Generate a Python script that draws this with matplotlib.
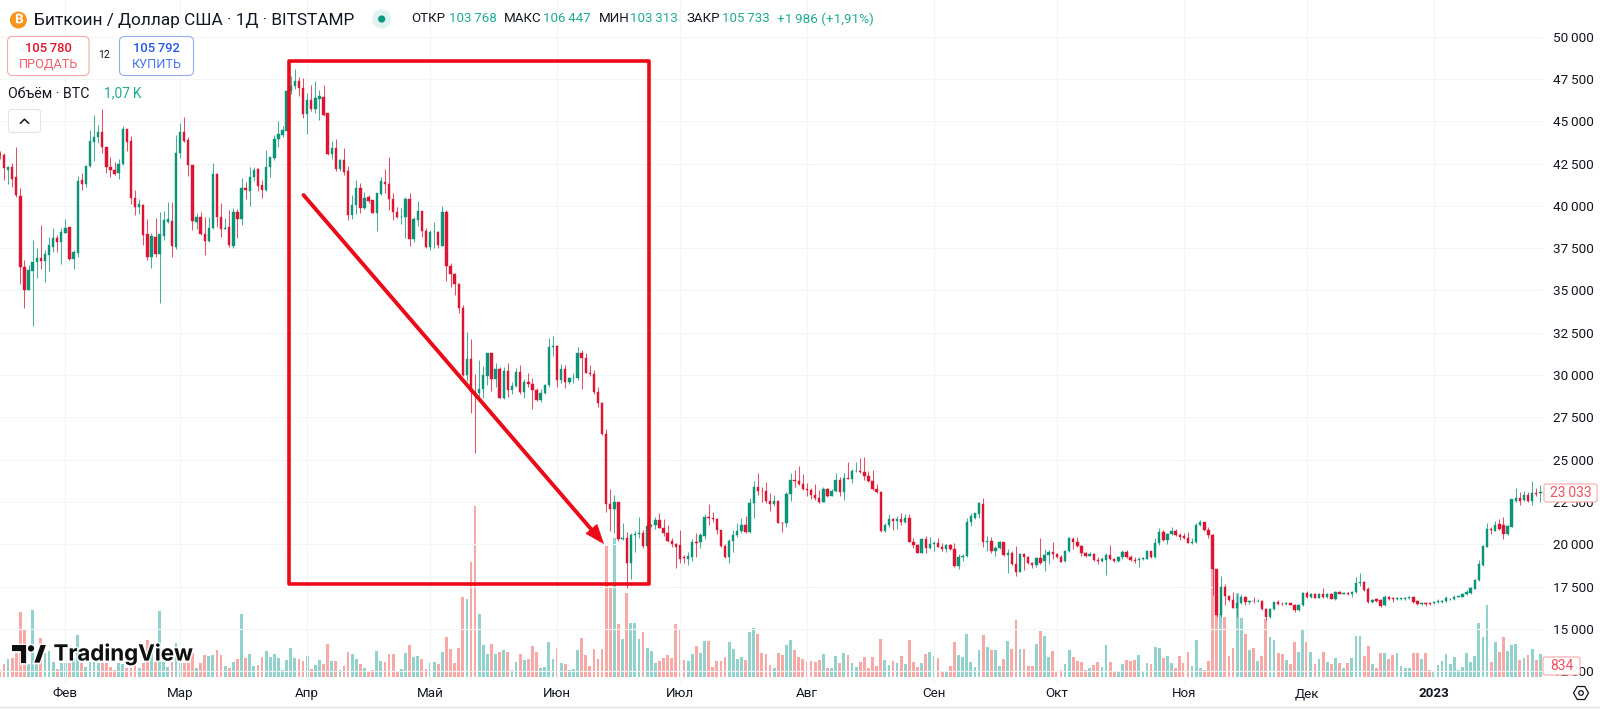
import matplotlib
matplotlib.use("Agg")
import matplotlib.pyplot as plt
import matplotlib.dates as mdates
import pandas as pd
from matplotlib.patches import Circle, FancyBboxPatch, Polygon, Rectangle, RegularPolygon
from matplotlib import patheffects as pe

plt.rcParams["font.family"] = ["Roboto", "DejaVu Sans"]

# Daily BTC/USD candles as (open, high, low, close), one list per month
jan_2022 = [(43060,43250,42800,43000),
    (43010,43110,41530,42220),(42120,42360,41290,42280),(42320,42520,41140,41590),(41690,43460,40550,40640),
    (40580,41040,35380,36410),(36410,36800,33950,35030),(35030,36510,35030,36210),(36170,37980,32900,36700),
    (36660,37530,35720,36940),(36900,38870,36250,36740),(36740,37390,35520,37160),(37100,38180,36170,37690),
    (37590,38670,37300,38080),(38080,38280,37300,37890),(37890,38710,36570,38460)]
feb_2022 = [(38420,39200,38380,38670),(38730,38770,36800,36840),(36840,37390,36250,37260),(37200,41770,37000,41490),
    (41530,41920,40940,41290),(41290,42360,41140,42360),(42360,44490,42320,43840),(43800,45370,42650,44050),
    (44050,44780,43700,44350),(44350,45730,43110,43460),(43500,43500,41920,42320),(42320,42910,41690,42120),
    (42120,42610,41830,41890),(41920,42750,41570,42480),(42480,44720,42420,44520),(44520,44520,43260,43800),
    (43840,44130,40110,40490),(40490,40940,39460,39950),(39950,40390,39520,40110),(40050,40090,37690,38280),
    (38340,39210,36800,37000),(36960,38380,36310,38220),(38180,39260,37000,37160),(37160,39660,34280,38340),
    (38240,39720,37980,39170),(39050,40250,38970,39210),(39090,40250,36960,37630),(37590,44190,37430,43110)]
mar_2022 = [(43150,44880,42810,44390),(44390,45270,43800,43840),(43890,44050,41770,42420),(42420,42420,38580,39110),
    (39070,39560,38610,39320),(39360,39660,38280,38340),(38340,39360,37100,37930),(37930,39360,37890,38710),
    (38670,42520,38610,41890),(41890,41920,38770,39360),(39360,40150,38180,38630),(38610,39260,38610,38710),
    (38770,39760,37590,37690),(37630,39860,37530,39620),(39620,39820,38080,39220),(39210,41630,38870,41080),
    (41040,41430,40390,40940),(40900,42280,40010,41730),(41690,42320,41490,42120),(42160,42220,40880,41180),
    (41230,41530,40450,40940),(40940,43300,40900,42280),(42280,42910,41730,42870),(42810,44190,42710,43950),
    (43950,45040,43500,44250),(44190,44740,44050,44490),(44450,46890,44410,46810),(46810,47700,46600,47090),
    (47090,48070,46910,47380),(47380,47640,46510,46990),(46990,47540,45180,45410)]
apr_2022 = [(45410,46650,44230,46260),(46260,47150,45630,45710),(45730,47400,45510,46360),(46340,46850,45080,46510),
    (46460,47150,45310,45370),(45470,45470,43010,43090),(43090,43840,42750,43400),(43400,43930,42060,42160),
    (42160,42750,42060,42710),(42710,43400,41830,41980),(42080,42360,39170,39460),(39440,40640,39210,40050),
    (40050,41530,39520,41080),(41080,41370,39560,39900),(39860,40840,39800,40490),(40540,40640,40150,40310),
    (40350,40350,39560,39600),(39600,40780,38540,40740),(40700,41690,40640,41470),(41430,42160,40780,41270),
    (41270,42910,39760,40410),(40410,40740,39170,39620),(39620,39950,39270,39320),(39320,39900,38930,39360),
    (39360,40550,38120,40390),(40390,40740,37650,38020),(38020,39360,37890,39200),(39170,40310,38830,39680),
    (39680,39720,38180,38540),(38540,38670,37490,37590)]
may_2022 = [(37590,38580,37390,38480),(38440,39070,37530,38480),(38440,38540,37490,37690),(37650,40010,37630,39640),
    (39640,39760,35580,36470),(36470,36600,35230,35960),(35960,36050,34730,35380),(35380,35420,33690,33950),
    (33950,34140,29950,30000),(30000,32570,29670,30950),(30950,32110,27780,28980),(29020,30050,25380,28920),
    (28920,30890,28630,29160),(29160,30540,28630,30000),(29950,31330,29420,31290),(31290,31290,29080,29750),
    (29750,30700,29320,30360),(30360,30500,28630,28630),(28630,30500,28600,30240),(30240,30700,28690,29120),
    (29120,29610,28880,29360),(29360,30400,29280,30200),(30200,30600,28880,29020),(29020,29750,28630,29570),
    (29570,30140,29320,29450),(29450,29810,28000,29120),(29120,29260,28470,28530),(28530,29160,28430,28960),
    (28960,29470,28880,29420),(29420,32170,29320,31680),(31680,32310,31150,31720)]
jun_2022 = [(31720,31780,29320,29710),(29710,30660,29550,30360),(30360,30600,29220,29610),(29610,29910,29450,29850),
    (29810,30140,29510,29850),(29850,31640,29710,31290),(31290,31480,29160,31030),(31030,31290,30100,30100),
    (30100,30600,29950,30040),(30040,30300,28880,28980),(28980,29320,28100,28330),(28330,28390,26460,26500),
    (26500,26790,21930,22380),(22380,23250,20810,22070),(22070,22910,20650,22520),(22520,22520,20220,20310),
    (20310,21280,20250,20390),(20390,20750,17400,18910),(18910,20690,17930,20550),(20550,20760,19570,20590),
    (20590,21630,20350,20690),(20690,20850,19760,19900),(19900,21240,19860,21080),(21080,21200,21000,21120),
    (21140,21590,20880,21440),(21440,21830,20940,20980),(20980,21480,20490,20650),(20650,21140,20160,20190),
    (20190,20350,19820,20020),(20020,20060,18620,19860)]
jul_2022 = [(19940,20850,18910,19130),(19250,19370,18910,19190),(19130,19530,18780,19290),(19250,20290,19030,20160),
    (20160,20690,19270,20060),(20120,20650,19760,20550),(20490,21790,20290,21590),(21610,22360,21140,21570),
    (21570,21930,21300,21520),(21520,21570,20610,20850),(20850,20850,19860,19900),(19900,20020,19190,19230),
    (19230,20290,18880,20210),(20210,20850,19570,20550),(20550,21240,20450,20810),(20810,21540,20690,21160),
    (21160,21670,20690,20730),(20730,22720,20690,22420),(22420,23760,21570,23390),(23390,24230,22910,23150),
    (23170,23370,22520,23130),(23130,23700,22420,22540),(22540,23010,21970,22380),(22380,22910,22260,22580),
    (22580,22620,21240,21280),(21280,21340,20730,21240),(21240,23110,21040,22970),(22970,24230,22580,23800),
    (23800,24390,23410,23760),(23760,24630,23500,23560),(23560,24150,23210,23250)]
aug_2022 = [(23250,23600,22850,23210),(23210,23310,22660,22910),(22910,23560,22620,22720),(22720,23210,22420,22520),
    (22520,23370,22510,23250),(23250,23310,22820,22850),(22850,23250,22850,23170),(23170,24190,23110,23800),
    (23800,23960,22850,23070),(23070,24190,22620,23940),(23940,24880,23840,23840),(23840,24430,23600,24350),
    (24310,24880,24250,24350),(24350,25080,24230,24290),(24290,25140,23800,24040),(24040,24330,23700,23760),
    (23760,24390,23210,23250),(23250,23540,23050,23110),(23110,23150,20750,20790),(20790,21240,20750,21120),
    (21120,21770,21000,21470),(21470,21530,20850,21380),(21380,21670,20880,21470),(21490,21870,21140,21340),
    (21340,21790,21280,21530),(21530,21790,20150,20160),(20160,20350,19760,19960),(19960,20020,19470,19510),
    (19510,20350,19470,20290),(20290,20490,19510,19760),(19760,20450,19700,20020)]
sep_2022 = [(20020,20200,19600,20100),(20100,20390,19820,19860),(19860,20060,19620,19740),(19740,20020,19570,19940),
    (19940,20020,19660,19740),(19740,20060,18680,18720),(18720,19430,18560,19230),(19230,19430,18990,19310),
    (19310,21530,19230,21340),(21340,21830,21100,21690),(21530,21870,21480,21830),(21790,22500,21530,22420),
    (22360,22740,19820,20120),(20150,20490,19620,20210),(20210,20450,19510,19600),(19600,19900,19310,19800),
    (19800,20180,19700,20140),(20140,20140,19310,19370),(19370,19700,18280,19500),(19500,19620,18790,18820),
    (18820,19900,18150,18380),(18380,19510,18340,19430),(19430,19470,18480,19270),(19270,19310,18840,18880),
    (18880,18970,18580,18780),(18780,19270,18680,19210),(19190,20350,18840,18880),(18990,19700,18440,19390),
    (19390,19660,18840,19560),(19560,20160,19110,19410)]
oct_2022 = [(19410,19470,19170,19230),(19230,19370,18930,18970),(18990,19660,18950,19620),(19620,20450,19520,20350),
    (20290,20410,19740,20140),(20140,20450,19860,19900),(19900,19980,19310,19470),(19470,19560,19270,19330),
    (19330,19560,19310,19410),(19420,19470,19010,19070),(19070,19230,18820,19010),(19030,19230,18950,19150),
    (19070,19470,18190,19350),(19350,19940,19070,19130),(19130,19210,18950,18990),(18990,19310,18950,19230),
    (19230,19660,19150,19560),(19560,19660,19170,19230),(19230,19370,19010,19070),(19070,19230,18900,18990),
    (19070,19230,18680,19150),(19150,19270,19070,19190),(19150,19660,19110,19580),(19580,19600,19190,19230),
    (19230,20390,19210,20060),(20060,20940,19980,20750),(20750,20850,20210,20250),(20250,20650,20020,20610),
    (20610,21040,20530,20790),(20790,20880,20510,20550),(20550,20690,20250,20410)]
nov_2022 = [(20510,20650,20310,20390),(20390,20730,20060,20100),(20100,20390,20020,20140),(20140,21240,20100,21140),
    (21140,21440,21080,21300),(21300,21340,20790,20850),(20850,21040,20370,20550),(20550,20610,17000,18520),
    (18520,18520,15720,15820),(15820,18130,15720,17500),(17500,17630,16410,16940),(16940,17000,16670,16710),
    (16710,17160,16220,16260),(16260,17060,15730,16550),(16550,17040,16470,16870),(16870,16960,16410,16610),
    (16610,16730,16450,16670),(16670,16910,16550,16630),(16630,16770,16570,16670),(16670,16710,16110,16160),
    (16160,16250,15530,15720),(15720,16240,15660,16200),(16200,16610,16110,16590),(16590,16710,16410,16490),
    (16490,16610,16390,16450),(16450,16610,16390,16510),(16510,16550,16390,16430),(16430,16470,15980,16120),
    (16120,16470,16080,16390),(16390,17200,16370,17140)]
dec_2022 = [(17140,17220,16850,16900),(16900,17140,16810,17060),(17060,17140,16810,16850),(16850,17140,16810,17060),
    (17060,17420,16830,16870),(16870,17140,16850,17060),(17060,17140,16750,16790),(16790,17260,16730,17180),
    (17180,17240,17040,17080),(17080,17180,17040,17140),(17120,17200,17020,17080),(17080,17220,16910,17160),
    (17160,18090,17100,17690),(17710,18320,17540,17790),(17790,17850,17260,17300),(17340,17500,16550,16590),
    (16590,16770,16550,16710),(16740,16830,16590,16670),(16710,16770,16310,16370),(16410,17000,16370,16900),
    (16870,16940,16710,16790),(16810,16870,16610,16770),(16790,16890,16710,16850),(16770,16850,16730,16810),
    (16770,16870,16730,16830),(16810,16940,16770,16870),(16880,16940,16550,16610),(16650,16710,16430,16490),
    (16450,16590,16410,16550),(16550,16590,16370,16470),(16550,16610,16430,16470)]
jan_2023 = [(16510,16650,16450,16590),(16570,16770,16530,16650),(16610,16730,16550,16670),(16630,16960,16590,16810),
    (16750,16850,16690,16790),(16770,16980,16710,16910),(16890,16970,16860,16930),(16910,17100,16890,17080),
    (17060,17300,17020,17160),(17140,17460,17080,17400),(17380,17930,17340,17910),(17890,19070,17850,18820),
    (18780,19960,18740,19900),(19860,21240,19860,20900),(20900,21000,20610,20840),(20800,21400,20770,21140),
    (21180,21490,20840,20900),(21120,21590,20330,20610),(20610,21160,20570,21100),(21040,22660,21000,22660),
    (22580,23310,22520,22740),(22740,23110,22340,22580),(22620,23130,22540,22890),(22890,23110,22520,22580),
    (22580,23760,22320,23010),(23050,23310,22870,22970),(23010,23500,22520,23070),(23070,23200,22900,23033)]

# Daily traded volume in BTC, one list per month
vol_jan_2022 = [540,970,1380,1430,1840,5130,3730,1030,5270,1030,3050,1840,2030,1160,620,1080]
vol_feb_2022 = [1080,1080,1430,3320,1080,760,1160,1160,1080,1080,1080,760,490,1080,970,700,700,890,700,1080,2920,1970,1160,5210,1160,760,1160,2650]
vol_mar_2022 = [1080,1080,1080,1840,700,1080,1670,1620,1670,2110,1700,860,650,1190,1380,5000,1430,1780,860,920,1510,2030,1570,1780,1430,490,1300,2240,1430,1380,1240]
vol_apr_2022 = [1650,620,920,1300,970,2570,1220,1220,490,810,1940,1780,1380,970,700,320,490,2030,1220,1160,1810,1810,410,620,1890,2480,1570,1620,1380,620]
vol_may_2022 = [1080,1190,970,1970,3160,2190,1080,2270,6320,6160,9130,13500,5000,2510,1760,2620,1810,1940,2110,1940,490,1160,1810,1300,1380,2430,1920,650,760,2700,1380]
vol_jun_2022 = [2270,1080,1000,490,570,2110,3080,1670,860,2190,1380,2190,10400,7050,10960,4130,3000,6620,4240,4240,3000,3510,2270,2030,1080,1220,1430,1730,1430,4130]
vol_jul_2022 = [3730,1300,1220,1760,2430,1840,2840,2840,780,1220,1220,1540,2700,2190,1380,1540,1300,3560,3890,3380,1890,1760,890,650,1840,1670,2480,2920,2110,1540,1380]
vol_aug_2022 = [1130,1220,1160,1300,1760,650,650,1620,1080,1890,1670,1080,780,1130,1540,700,1540,810,3000,1300,950,1220,1080,1620,1000,2920,1130,780,1080,1760,1940]
vol_sep_2022 = [1620,1460,430,410,860,2700,1670,1540,3380,1130,780,2110,3290,2350,2110,2110,860,1380,2840,2190,4460,2190,2190,860,860,2620,3650,3210,1540,2030]
vol_oct_2022 = [350,490,1000,2110,1540,1220,1160,490,650,920,1130,780,2480,1130,350,410,1000,1300,1220,1300,1670,410,1080,1000,2350,2270,1460,1590,1080,650,1620]
vol_nov_2022 = [1080,1940,860,2920,700,490,1220,9830,4860,4940,4730,1620,2270,6640,4670,3380,2110,2270,1220,1620,4540,3130,2920,1840,1760,1300,970,2700,1940,3730]
vol_dec_2022 = [2700,1940,970,1380,1920,1130,1000,1460,1080,650,1080,1460,3210,3210,1620,2430,970,650,1840,1840,1380,1670,1840,860,650,650,1890,1890,1380,1890,540]
vol_jan_2023 = [460,920,1220,1760,1000,1540,490,760,1890,1130,1620,4270,3130,5670,1130,2700,1940,3130,2050,2480,2570,1300,1460,1670,2190,1300,1760,834]

first_day = "2022-01-16"
price_ticks = [12500, 15000, 17500, 20000, 22500, 25000, 27500, 30000, 32500,
               35000, 37500, 40000, 42500, 45000, 47500, 50000]
month_starts = ["2022-02-01", "2022-03-01", "2022-04-01", "2022-05-01", "2022-06-01", "2022-07-01",
                "2022-08-01", "2022-09-01", "2022-10-01", "2022-11-01", "2022-12-01", "2023-01-01"]
month_labels = ["Фев", "Мар", "Апр", "Май", "Июн", "Июл", "Авг", "Сен", "Окт", "Ноя", "Дек", "2023"]

candles = (jan_2022 + feb_2022 + mar_2022 + apr_2022 + may_2022 + jun_2022 + jul_2022
           + aug_2022 + sep_2022 + oct_2022 + nov_2022 + dec_2022 + jan_2023)
volumes = (vol_jan_2022 + vol_feb_2022 + vol_mar_2022 + vol_apr_2022 + vol_may_2022 + vol_jun_2022
           + vol_jul_2022 + vol_aug_2022 + vol_sep_2022 + vol_oct_2022 + vol_nov_2022 + vol_dec_2022 + vol_jan_2023)
if len(candles) != len(volumes):
    raise ValueError(f"{len(candles)} candles, {len(volumes)} volumes")

days = mdates.date2num(pd.date_range(first_day, periods=len(candles)))
opens, highs, lows, closes = zip(*candles)
is_up = [c >= o for o, c in zip(opens, closes)]

UP, DOWN = "#0a9478", "#de1433"
UP_VOL, DOWN_VOL = "#92d2cc", "#f7a9a7"
GRID = "#f3f4f6"
INK = "#131722"
FRAME = "#ec0a18"

W, H = 1600, 710
fig = plt.figure(figsize=(W / 100, H / 100), dpi=100, facecolor="white")

# Chart pane: 1543 px wide, 683 px tall, price and volume on separate scales
pane = [0, (H - 683) / H, 1543 / W, 683 / H]
vol_ax = fig.add_axes(pane, zorder=1)
ax = fig.add_axes(pane, zorder=2)
ax.patch.set_visible(False)

feb_first = mdates.date2num(pd.Timestamp("2022-02-01"))
px_per_day = 4.097
xlim = (feb_first - 65.4 / px_per_day, feb_first + (1543 - 65.4) / px_per_day)
ax.set_xlim(xlim)
vol_ax.set_xlim(xlim)
ax.set_ylim(11803, 52168)
vol_ax.set_ylim(-516, 53714)

vol_ax.bar(days, volumes, width=0.68, color=[UP_VOL if u else DOWN_VOL for u in is_up], linewidth=0, zorder=3)
vol_ax.set_yticks([])
vol_ax.set_xticks([])
for side in vol_ax.spines.values():
    side.set_visible(False)

colors = [UP if u else DOWN for u in is_up]
ax.vlines(days, lows, highs, colors=colors, linewidth=0.75, alpha=0.75, zorder=3)
bottoms = [min(o, c) for o, c in zip(opens, closes)]
heights = [abs(o - c) for o, c in zip(opens, closes)]
ax.bar(days, heights, bottom=bottoms, width=0.58, color=colors, edgecolor=colors, linewidth=0.3, zorder=4)

# Price scale on the right
ax.yaxis.tick_right()
ax.set_yticks(price_ticks)
ax.set_yticklabels([f"{p:,}".replace(",", "\u2009") for p in price_ticks], fontsize=9.7, color=INK)
ax.tick_params(axis="y", length=0, pad=7)

# Month scale along the bottom
month_pos = mdates.date2num(pd.to_datetime(month_starts))
ax.set_xticks(month_pos)
ax.set_xticklabels(month_labels, fontsize=9.6, color=INK)
ax.get_xticklabels()[-1].set_fontweight("bold")
ax.tick_params(axis="x", length=0, pad=3)
ax.grid(True, color=GRID, linewidth=0.8, zorder=0)
ax.set_axisbelow(True)
for side in ax.spines.values():
    side.set_visible(False)

# Overlay in pixel coordinates for header, annotations and price tags
ov = fig.add_axes([0, 0, 1, 1], zorder=5)
ov.set_xlim(0, W)
ov.set_ylim(H, 0)
ov.axis("off")
fig.canvas.draw()


def price_y(value):
    return H - ax.transData.transform((0, value))[1]


def volume_y(value):
    return H - vol_ax.transData.transform((0, value))[1]


def label(x, y, text, size=9.5, color=INK, ha="left", **kw):
    return ov.text(x, y, text, fontsize=size, color=color, ha=ha, va="center", **kw)


def rounded(x0, y0, x1, y1, edge, face="white", radius=5, lw=0.8):
    ov.add_patch(FancyBboxPatch((x0, y0), x1 - x0, y1 - y0, boxstyle=f"round,pad=0,rounding_size={radius}",
                                edgecolor=edge, facecolor=face, linewidth=lw))


ov.plot([0, W], [707, 707], color="#e0e3eb", linewidth=1)

# Symbol row
ov.add_patch(Circle((18.4, 20), 8.5, facecolor="#f7931a", edgecolor="none"))
label(18.4, 20, "₿", size=9.5, color="white", ha="center", fontweight="bold",
      family=["Inter", "Noto Sans", "Open Sans", "Lato", "DejaVu Sans"])
label(33.5, 20, "Биткоин / Доллар США · 1Д · BITSTAMP", size=12.4)
ov.add_patch(Circle((381.7, 19), 9.5, facecolor="#dff2ef", edgecolor="none"))
ov.add_patch(Circle((381.7, 19), 3.6, facecolor="#089981", edgecolor="none"))
TEAL = "#22ab94"
for x, name, x2, value in [(411, "ОТКР", 449, "103\u2009768"), (504, "МАКС", 543, "106\u2009447"),
                           (599, "МИН", 630, "103\u2009313"), (686.6, "ЗАКР", 722, "105\u2009733")]:
    label(x, 19, name, size=9.6)
    label(x2, 19, value, size=9.6, color=TEAL)
label(777, 19, "+1\u2009986 (+1,91%)", size=9.7, color=TEAL)

# Trade buttons
rounded(7.5, 36.5, 89, 75.5, "#f7a9a7")
label(48, 49, "105\u2009780", size=9.4, color="#e0142f", ha="center", fontweight="medium")
label(48, 64, "ПРОДАТЬ", size=9.2, color="#ef5f6c", ha="center")
label(104.5, 55, "12", size=7.6, ha="center")
rounded(119.5, 36.5, 193.5, 75.5, "#94aff0")
label(156.5, 49, "105\u2009792", size=9.4, color="#2458e8", ha="center", fontweight="medium")
label(156.5, 64, "КУПИТЬ", size=9.2, color="#4a78ec", ha="center")

# Volume legend and collapse button
label(8, 93.5, "Объём · BTC", size=10.2)
label(104, 93.5, "1,07\u2009K", size=10, color=TEAL)
rounded(8.5, 109.5, 40.5, 132.5, "#e0e3eb", radius=3)
ov.plot([20.5, 24.5, 28.5], [123.2, 119.2, 123.2], color=INK, linewidth=1.1)

# Highlight frame and arrow for the decline
ov.add_patch(Rectangle((289.3, 60.5), 360, 523.8, fill=False, edgecolor=FRAME, linewidth=2.6, joinstyle="round"))
ov.plot([303.5, 594], [195, 532.5], color=FRAME, linewidth=2.8, solid_capstyle="round")
ov.add_patch(Polygon([(603.5, 543.5), (586, 533.5), (597, 524.5)], closed=True, facecolor=FRAME, edgecolor=FRAME, linewidth=0.5))

# Last price tag, and last volume tag
last_close = closes[-1]
tag_y = price_y(last_close)
rounded(1544, tag_y - 9, 1597, tag_y + 9, "#f7a9a7", radius=2)
label(1570.5, tag_y, f"{last_close:,}".replace(",", "\u2009"), size=10, color="#ef5360", ha="center")
vol_tag_y = volume_y(volumes[-1])
rounded(1543, vol_tag_y - 9, 1580, vol_tag_y + 9, "#f7a9a7", radius=2)
label(1561.5, vol_tag_y, f"{volumes[-1]}", size=10, color="#ef5360", ha="center")

# Scale settings icon
ov.add_patch(RegularPolygon((1581, 693), 6, radius=7.5, orientation=0.5236, fill=False, edgecolor=INK, linewidth=0.9))
ov.add_patch(Circle((1581, 693), 2.3, fill=False, edgecolor=INK, linewidth=0.9))

# Platform mark over the volume bars
halo = [pe.withStroke(linewidth=2.5, foreground="white", alpha=0.75)]
logo_parts = [
    Polygon([(12, 645), (26, 645), (26, 662.6), (20.7, 662.6), (20.7, 651), (12, 651)], closed=True),
    Circle((31, 648.4), 3.1),
    Polygon([(34.4, 662.6), (40.6, 645), (45.8, 645), (39.6, 662.6)], closed=True),
]
for part in logo_parts:
    part.set_facecolor("#0f0f0f")
    part.set_edgecolor("none")
    part.set_path_effects(halo)
    ov.add_patch(part)
label(53.5, 654, "TradingView", size=16, color="#0f0f0f", fontweight="bold", family=["Inter", "DejaVu Sans"],
      path_effects=halo)

fig.savefig("out.png", dpi=100, facecolor="white")
